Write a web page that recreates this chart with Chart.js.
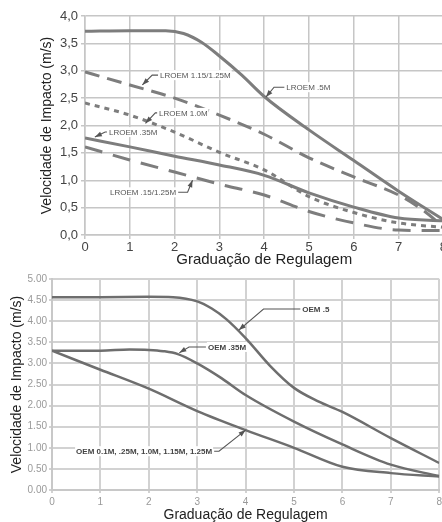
<!DOCTYPE html>
<html>
<head>
<meta charset="utf-8">
<script src="https://cdn.jsdelivr.net/npm/chart.js@4.4.1/dist/chart.umd.min.js"></script>
<style>
  html, body { margin: 0; padding: 0; background: #fff; overflow: hidden; width: 442px; height: 522px; }
  #topChart { position: absolute; left: 0; top: 0; }
  #bottomChart { position: absolute; left: 0; top: 262px; }
</style>
</head>
<body>
<canvas id="topChart" width="448" height="267"></canvas>
<canvas id="bottomChart" width="445" height="260"></canvas>
<script>
    // ---- top chart (LROEM) ----
    const lroem05X = [0, 1, 1.8, 2.2, 2.6, 3, 3.5, 4, 5, 6, 7, 8];
    const lroem05Y = [3.72, 3.73, 3.73, 3.68, 3.52, 3.27, 2.92, 2.53, 1.92, 1.36, 0.8, 0.28];
    const lroem115X = [0, 1, 2, 3, 4, 5, 6, 7, 7.5, 8];
    const lroem115Y = [2.98, 2.74, 2.5, 2.19, 1.84, 1.41, 1.06, 0.73, 0.48, 0.15];
    const gradSteps = [0, 1, 2, 3, 4, 5, 6, 7, 8];
    const lroem10Y = [2.41, 2.19, 1.88, 1.51, 1.19, 0.7, 0.41, 0.22, 0.14];
    const lroem035Y = [1.77, 1.61, 1.44, 1.28, 1.09, 0.77, 0.51, 0.31, 0.26];
    const lroem015Y = [1.61, 1.37, 1.15, 0.93, 0.73, 0.43, 0.22, 0.09, 0.08];

    // ---- bottom chart (OEM) ----
    const oem05X = [0, 1, 2, 2.5, 3, 3.3, 3.6, 4, 4.5, 5, 5.5, 6, 7, 8];
    const oem05Y = [4.57, 4.57, 4.58, 4.57, 4.47, 4.3, 4.05, 3.6, 2.95, 2.42, 2.1, 1.85, 1.23, 0.64];
    const oem035X = [0, 1, 1.6, 2, 2.3, 2.6, 3, 3.5, 4, 5, 6, 7, 8];
    const oem035Y = [3.3, 3.3, 3.33, 3.32, 3.29, 3.22, 3.0, 2.65, 2.25, 1.62, 1.08, 0.6, 0.33];
    const oem01Y = [3.3, 2.85, 2.4, 1.87, 1.42, 1.0, 0.55, 0.4, 0.32];

    const xTitle = "Graduação de Regulagem";
    const yTitle = "Velocidade de Impacto (m/s)";

    // callouts: tip -> elbow -> horizontal leader to text (data units)
    const topCallouts = [
      { text: "LROEM 1.15/1.25M", tip: [1.28, 2.74], elbow: [1.5, 2.92], textAt: 1.63, align: "left" },
      { text: "LROEM 1.0M", tip: [1.35, 2.04], elbow: [1.57, 2.23], textAt: 1.61, align: "left" },
      { text: "LROEM .35M", tip: [0.22, 1.79], elbow: [0.45, 1.88], textAt: 0.49, align: "left" },
      { text: "LROEM .15/1.25M", tip: [2.4, 1.0], elbow: [2.29, 0.78], textAt: 2.08, align: "right" },
      { text: "LROEM .5M", tip: [4.04, 2.52], elbow: [4.22, 2.7], textAt: 4.45, align: "left" }
    ];
    const bottomCallouts = [
      { text: "OEM .5", tip: [3.86, 3.79], elbow: [4.37, 4.29], textAt: 5.13, align: "left" },
      { text: "OEM .35M", tip: [2.63, 3.25], elbow: [2.83, 3.39], textAt: 3.18, align: "left" },
      { text: "OEM 0.1M, .25M, 1.0M, 1.15M, 1.25M", tip: [4.0, 1.42], elbow: [3.45, 0.92], textAt: 3.35, align: "right" }
    ];

    function toPoints(xs, ys) {
      return ys.map((v, i) => ({ x: xs[i], y: v }));
    }

    const calloutPlugin = {
      id: "callouts",
      afterDatasetsDraw(chart, args, opts) {
        const { ctx } = chart;
        const x = chart.scales.x;
        const y = chart.scales.y;
        ctx.save();
        ctx.font = opts.font;
        ctx.textBaseline = "middle";
        opts.items.forEach((c) => {
          const tx = x.getPixelForValue(c.tip[0]);
          const ty = y.getPixelForValue(c.tip[1]);
          const ex = x.getPixelForValue(c.elbow[0]);
          const ey = y.getPixelForValue(c.elbow[1]);
          const lx = x.getPixelForValue(c.textAt);

          ctx.strokeStyle = opts.color;
          ctx.lineWidth = 1.1;
          ctx.beginPath();
          ctx.moveTo(tx, ty);
          ctx.lineTo(ex, ey);
          ctx.lineTo(lx, ey);
          ctx.stroke();

          // arrow head at the tip
          const ang = Math.atan2(ty - ey, tx - ex);
          ctx.fillStyle = opts.color;
          ctx.beginPath();
          ctx.moveTo(tx, ty);
          ctx.lineTo(tx - 7 * Math.cos(ang) + 2.5 * Math.sin(ang), ty - 7 * Math.sin(ang) - 2.5 * Math.cos(ang));
          ctx.lineTo(tx - 7 * Math.cos(ang) - 2.5 * Math.sin(ang), ty - 7 * Math.sin(ang) + 2.5 * Math.cos(ang));
          ctx.closePath();
          ctx.fill();

          const w = ctx.measureText(c.text).width;
          const left = c.align === "right" ? lx - 2 - w : lx + 2;
          ctx.fillStyle = "#fff";
          ctx.fillRect(left - 1, ey - 5, w + 2, 10);
          ctx.fillStyle = opts.textColor;
          ctx.textAlign = "left";
          ctx.fillText(c.text, left, ey + 0.5);
        });
        ctx.restore();
      }
    };

    function lineSet(points, dash, width, color) {
      return {
        data: points,
        borderColor: color,
        borderWidth: width,
        borderDash: dash,
        pointRadius: 0,
        fill: false,
        cubicInterpolationMode: "monotone"
      };
    }

    const topColor = "#7d7d7d";
    new Chart(document.getElementById("topChart"), {
      type: "line",
      data: {
        datasets: [
          lineSet(toPoints(lroem05X, lroem05Y), [], 3, topColor),
          lineSet(toPoints(lroem115X, lroem115Y), [15, 8], 3, topColor),
          lineSet(toPoints(gradSteps, lroem10Y), [5, 5], 3, topColor),
          lineSet(toPoints(gradSteps, lroem035Y), [], 3, topColor),
          lineSet(toPoints(gradSteps, lroem015Y), [18, 11], 3, topColor)
        ]
      },
      options: {
        responsive: false,
        animation: false,
        layout: { padding: { top: 16, left: 0, right: 0, bottom: 0 } },
        plugins: {
          legend: { display: false },
          tooltip: { enabled: false },
          callouts: { items: topCallouts, font: "8px Arial, 'Liberation Sans'", color: "#555", textColor: "#555" }
        },
        scales: {
          x: {
            type: "linear",
            min: 0,
            max: 8,
            afterFit: (scale) => { scale.height = 32; },
            ticks: { stepSize: 1, padding: 1, color: "#444", font: { family: "Arial, 'Liberation Sans'", size: 13 } },
            grid: { color: "#c6c6c6", lineWidth: 1.5, tickLength: 4 },
            border: { color: "#c6c6c6", width: 1.5 },
            title: { display: true, text: xTitle, color: "#222", padding: { top: 0, bottom: 0 }, font: { family: "Arial, 'Liberation Sans'", size: 15, lineHeight: 1 } }
          },
          y: {
            min: 0,
            max: 4,
            afterFit: (scale) => { scale.width = 85; },
            ticks: {
              stepSize: 0.5,
              padding: 3,
              color: "#444",
              font: { family: "Arial, 'Liberation Sans'", size: 13 },
              callback: (v) => v.toFixed(1).replace(".", ",")
            },
            grid: { color: "#c6c6c6", lineWidth: 1.5, tickLength: 4 },
            border: { color: "#c6c6c6", width: 1.5 },
            title: { display: true, text: yTitle, color: "#222", padding: { top: 40, bottom: 0 }, font: { family: "Arial, 'Liberation Sans'", size: 14, lineHeight: 1 } }
          }
        }
      },
      plugins: [calloutPlugin]
    });

    const bottomColor = "#6e6e6e";
    new Chart(document.getElementById("bottomChart"), {
      type: "line",
      data: {
        datasets: [
          lineSet(toPoints(oem05X, oem05Y), [], 2.5, bottomColor),
          lineSet(toPoints(oem035X, oem035Y), [], 2.5, bottomColor),
          lineSet(toPoints(gradSteps, oem01Y), [], 2.5, bottomColor)
        ]
      },
      options: {
        responsive: false,
        animation: false,
        layout: { padding: { top: 17, left: 0, right: 0, bottom: 0 } },
        plugins: {
          legend: { display: false },
          tooltip: { enabled: false },
          callouts: { items: bottomCallouts, font: "bold 8px Arial, 'Liberation Sans'", color: "#555", textColor: "#444" }
        },
        scales: {
          x: {
            type: "linear",
            min: 0,
            max: 8,
            afterFit: (scale) => { scale.height = 32; },
            ticks: { stepSize: 1, padding: 3, color: "#999", font: { family: "Arial, 'Liberation Sans'", size: 10 } },
            grid: { color: "#d2d2d2", lineWidth: 2, tickLength: 3 },
            border: { color: "#c8c8c8", width: 2 },
            title: { display: true, text: xTitle, color: "#222", padding: { top: 0, bottom: 0 }, font: { family: "Arial, 'Liberation Sans'", size: 14, lineHeight: 1 } }
          },
          y: {
            min: 0,
            max: 5,
            afterFit: (scale) => { scale.width = 52; },
            ticks: {
              stepSize: 0.5,
              padding: 2,
              color: "#999",
              font: { family: "Arial, 'Liberation Sans'", size: 10 },
              callback: (v) => v.toFixed(2)
            },
            grid: { color: "#d2d2d2", lineWidth: 2, tickLength: 3 },
            border: { color: "#c8c8c8", width: 2 },
            title: { display: true, text: yTitle, color: "#222", padding: { top: 10, bottom: 0 }, font: { family: "Arial, 'Liberation Sans'", size: 14, lineHeight: 1 } }
          }
        }
      },
      plugins: [calloutPlugin]
    });
</script>
</body>
</html>
